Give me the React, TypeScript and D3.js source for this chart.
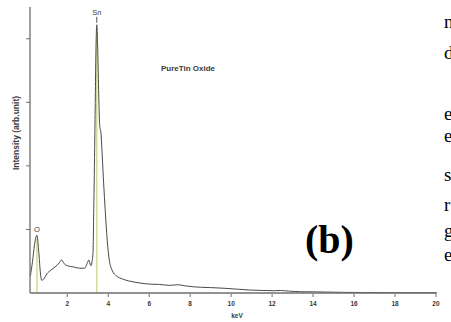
import React from "react";
import * as d3 from "d3";

// Spectrum: energy (keV) and intensity (arb. units)
const energyKeV = [
  0.2, 0.3, 0.4, 0.52, 0.6, 0.7, 0.75, 0.85, 1.0, 1.2, 1.4, 1.6, 1.72, 1.85,
  2.0, 2.3, 2.6, 2.85, 3.0, 3.05, 3.15, 3.25, 3.3, 3.35, 3.4, 3.44, 3.48, 3.53,
  3.58, 3.65, 3.7, 3.78, 3.85, 3.95, 4.05, 4.2, 4.4, 4.7, 5.0, 5.5, 6.0, 6.5,
  7.0, 7.4, 7.8, 8.5, 9.0, 9.7, 10.3, 10.9, 11.5, 12.1, 12.4, 12.8, 13.4, 14.0,
  14.6, 15.5, 16.5, 18.0, 20.0,
];
const intensity = [
  0.27, 0.49, 0.76, 0.91, 0.68, 0.28, 0.2, 0.22, 0.3, 0.36, 0.41, 0.47, 0.52,
  0.46, 0.43, 0.41, 0.39, 0.39, 0.49, 0.52, 0.43, 0.6, 1.46, 2.57, 3.83, 4.22,
  3.9, 3.2, 2.65, 2.5, 2.2, 1.7, 1.31, 0.83, 0.52, 0.35, 0.27, 0.22, 0.19,
  0.16, 0.14, 0.135, 0.12, 0.13, 0.11, 0.09, 0.085, 0.074, 0.06, 0.047, 0.04,
  0.036, 0.04, 0.03, 0.02, 0.018, 0.015, 0.01, 0.008, 0.006, 0.005,
];

// Element markers
const elementNames = ["O", "Sn"];
const elementKeV = [0.52, 3.44];
const elementPeak = [0.91, 4.22];

const xTicks = [2, 4, 6, 8, 10, 12, 14, 16, 18, 20];
const yTicks = [1, 2, 3, 4];

// Cut-off text from the surrounding page on the right edge
const sideLetters = ["n", "d", "e", "e", "s", "r", "g", "e"];
const sideBaselines = [28, 59, 120, 142, 181, 211, 237, 261];

export default function App() {
  const x = d3.scaleLinear().domain([0.18, 20.05]).range([30, 437]);
  const y = d3.scaleLinear().domain([0, 4.5]).range([293, 7]);
  const pts = energyKeV.map((e, i) => [e, intensity[i]] as [number, number]);
  const line = d3
    .line<[number, number]>()
    .x((d) => x(d[0]))
    .y((d) => y(d[1]))
    .curve(d3.curveMonotoneX);

  const axisColor = "#6e6e6e";
  const textColor = "#3a3a3a";

  return (
    <svg
      width={451}
      height={322}
      style={{ position: "absolute", left: 0, top: 0, background: "#fff" }}
      fontFamily="'Liberation Sans', Arial, sans-serif"
    >
      <rect width={451} height={322} fill="#fff" />
      {/* element lines */}
      {elementKeV.map((e, i) => (
        <line
          key={"el" + i}
          x1={x(e)}
          x2={x(e)}
          y1={y(0)}
          y2={y(elementPeak[i]) + 3}
          stroke="#cdd27c"
          strokeWidth={1.2}
        />
      ))}
      {/* spectrum */}
      <path d={line(pts) || ""} fill="none" stroke="#4a4a4a" strokeWidth={1} />
      {/* axes */}
      <line x1={30} x2={30} y1={7} y2={293} stroke={axisColor} strokeWidth={1.3} />
      <line x1={30} x2={437} y1={293} y2={293} stroke={axisColor} strokeWidth={1.3} />
      {yTicks.map((t) => (
        <line key={"yt" + t} x1={26} x2={30} y1={y(t)} y2={y(t)} stroke={axisColor} strokeWidth={1} />
      ))}
      {xTicks.map((t) => (
        <g key={"xt" + t}>
          <line x1={x(t)} x2={x(t)} y1={294} y2={297} stroke={axisColor} strokeWidth={1} />
          <text
            x={x(t)}
            y={305.5}
            textAnchor="middle"
            fontSize={6.5}
            fontWeight="bold"
            fill={textColor}
          >
            {t}
          </text>
        </g>
      ))}
      <text x={237} y={318} textAnchor="middle" fontSize={6.5} fontWeight="bold" fill={textColor}>
        keV
      </text>
      <text
        transform="translate(19,133) rotate(-90)"
        textAnchor="middle"
        fontSize={8.5}
        fontWeight="bold"
        fill={textColor}
      >
        Intensity (arb.unit)
      </text>
      {/* element labels */}
      {elementNames.map((n, i) => (
        <g key={"lab" + i}>
          <text
            x={x(elementKeV[i])}
            y={y(elementPeak[i]) - (n === "Sn" ? 10 : 3)}
            textAnchor="middle"
            fontSize={7.5}
            fill={textColor}
          >
            {n}
          </text>
          {n === "Sn" && (
            <line
              x1={x(elementKeV[i])}
              x2={x(elementKeV[i])}
              y1={y(elementPeak[i]) - 8}
              y2={y(elementPeak[i]) - 2}
              stroke="#555"
              strokeWidth={1}
            />
          )}
        </g>
      ))}
      <text x={188} y={71} textAnchor="middle" fontSize={8} fontWeight="bold" fill={textColor}>
        PureTin Oxide
      </text>
      <text
        x={305}
        y={253}
        fontSize={40}
        fontWeight="bold"
        fontFamily="'Liberation Serif', 'Times New Roman', serif"
        fill="#000"
      >
        (b)
      </text>
      {sideLetters.map((c, i) => (
        <text
          key={"s" + i}
          x={444}
          y={sideBaselines[i]}
          fontSize={19}
          fontFamily="'Liberation Serif', 'Times New Roman', serif"
          fill="#000"
        >
          {c}
        </text>
      ))}
    </svg>
  );
}
